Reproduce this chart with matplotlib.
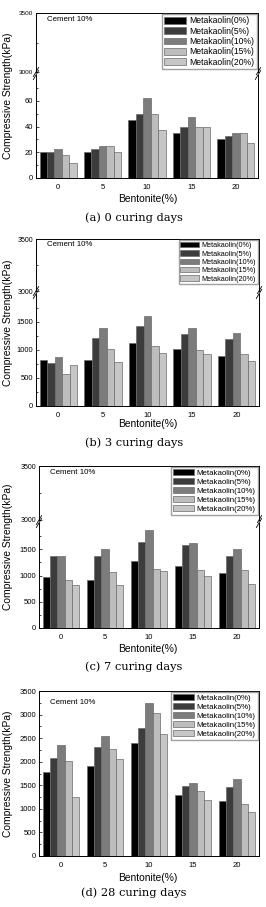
import numpy as np
import matplotlib
matplotlib.use("Agg")
import matplotlib.pyplot as plt

plt.rcParams['font.family'] = ['Liberation Sans', 'DejaVu Sans']

# data
bentonite = [0, 5, 10, 15, 20]
series_names = ["Metakaolin(0%)", "Metakaolin(5%)", "Metakaolin(10%)",
                "Metakaolin(15%)", "Metakaolin(20%)"]
bar_colors = ["#000000", "#3c3c3c", "#7c7c7c", "#bdbdbd", "#c6c6c6"]

# 0 curing days, rows = metakaolin %, columns = bentonite %
day0 = [[20, 20, 45, 35, 30],
        [20, 22.5, 50, 40, 32.5],
        [22.5, 25, 62.5, 47.5, 35],
        [17.5, 25, 50, 40, 35],
        [11.5, 20, 37.5, 40, 27.5]]
day3 = [[820, 830, 1130, 1010, 900],
        [770, 1220, 1430, 1290, 1190],
        [880, 1390, 1600, 1400, 1310],
        [580, 1010, 1080, 1000, 930],
        [730, 780, 950, 920, 800]]
day7 = [[970, 920, 1280, 1180, 1040],
        [1370, 1370, 1640, 1580, 1380],
        [1380, 1500, 1860, 1610, 1510],
        [910, 1070, 1120, 1110, 1100],
        [810, 820, 1080, 1000, 840]]
day28 = [[1780, 1900, 2400, 1290, 1160],
         [2085, 2320, 2705, 1480, 1470],
         [2345, 2550, 3245, 1550, 1630],
         [2025, 2260, 3025, 1380, 1105],
         [1250, 2055, 2595, 1185, 930]]

captions = ["(a) 0 curing days", "(b) 3 curing days",
            "(c) 7 curing days", "(d) 28 curing days"]

W, H = 266, 907
fig = plt.figure(figsize=(W / 100, H / 100), dpi=100)


def box(l, t, r, b):
    return [l / W, 1 - b / H, (r - l) / W, (b - t) / H]


bw = 0.84
x = np.array(bentonite, dtype=float)


def draw_bars(ax, data):
    for i, vals in enumerate(data):
        ax.bar(x + (i - 2) * bw, vals, bw, color=bar_colors[i],
               edgecolor="#6a6a6a", linewidth=0.5, label=series_names[i])
    ax.set_xlim(-2.5, 22.5)
    ax.set_xticks(bentonite)


def style(ax, fs=5.5):
    ax.tick_params(labelsize=fs, width=0.5, pad=2)
    ax.tick_params(axis="y", which="major", direction="in", length=2.2)
    ax.tick_params(axis="y", which="minor", direction="in", length=1.3, width=0.5)
    ax.tick_params(axis="x", length=0, pad=4)
    for s in ax.spines.values():
        s.set_linewidth(0.7)


def break_marks(ax_top, ax_bot):
    d = 0.012
    for ax, yy in [(ax_top, 0.0), (ax_bot, 1.0)]:
        pos = ax.get_position()
        dy = d * W / (pos.height * H) * 1.4
        for xx in (0.0, 1.0):
            ax.plot([xx - d, xx + d], [yy - dy, yy + dy], transform=ax.transAxes,
                    color="k", lw=0.6, clip_on=False)


def legend(ax, fs):
    ax.legend(loc="upper right", bbox_to_anchor=(1.0, 1.0), fontsize=fs,
              frameon=True, fancybox=False, edgecolor="#888888",
              handlelength=2.6, handleheight=0.8, labelspacing=0.15,
              borderpad=0.25, handletextpad=0.35, borderaxespad=0.15)


# panel specs: (frame left, top, break, bottom, right, lower ymax, major step, data, legend fs)
panels = [
    (36, 13, 73, 178, 258, 80, 20, day0, 6.2),
    (36, 239, 292, 406, 259, 2000, 500, day3, 5.2),
    (39, 466, 521, 628, 259, 2000, 500, day7, 5.7),
]

for k, (l, t, brk, b, r, ymax, step, data, lfs) in enumerate(panels):
    ax_top = fig.add_axes(box(l, t, r, brk - 1))
    ax_bot = fig.add_axes(box(l, brk + 2, r, b), sharex=ax_top)
    draw_bars(ax_top, data)
    draw_bars(ax_bot, data)
    ax_top.set_ylim(3000, 3500)
    ax_top.set_yticks([3000, 3500])
    ax_top.set_yticks([3250], minor=True)
    ax_bot.set_ylim(0, ymax)
    ax_bot.set_yticks(np.arange(0, ymax, step))
    ax_bot.set_yticks(np.arange(step / 2, ymax, step), minor=True)
    ax_top.spines["bottom"].set_visible(False)
    ax_bot.spines["top"].set_visible(False)
    style(ax_top, 4.6 if k == 0 else 5.0)
    style(ax_bot)
    ax_top.tick_params(axis="x", bottom=False, labelbottom=False)
    break_marks(ax_top, ax_bot)
    legend(ax_top, lfs)
    ax_top.text(0.05, 0.86, "Cement 10%", transform=ax_top.transAxes, fontsize=5.7)
    fig.text(8 / W, 1 - (t + b) / 2 / H, "Compressive Strength(kPa)", rotation=90,
             ha="center", va="center", fontsize=7.4)

# panel d has a normal axis
l, t, b, r = 39, 691, 856, 259
ax = fig.add_axes(box(l, t, r, b))
draw_bars(ax, day28)
ax.set_ylim(0, 3500)
ax.set_yticks(np.arange(0, 3501, 500))
ax.set_yticks(np.arange(250, 3500, 500), minor=True)
style(ax)
legend(ax, 5.7)
ax.text(0.05, 0.92, "Cement 10%", transform=ax.transAxes, fontsize=5.7)
fig.text(8 / W, 1 - (t + b) / 2 / H, "Compressive Strength(kPa)", rotation=90,
         ha="center", va="center", fontsize=7.4)

xlabel_y = [199, 424, 649, 878]
caption_y = [218, 443, 667, 893]
for k in range(4):
    fig.text(148 / W, 1 - xlabel_y[k] / H, "Bentonite(%)", ha="center", va="center",
             fontsize=7.4)
    fig.text(134 / W, 1 - caption_y[k] / H, captions[k], ha="center", va="center",
             fontsize=8.2, family=["DejaVu Serif"])

fig.savefig("out.png", dpi=100)
